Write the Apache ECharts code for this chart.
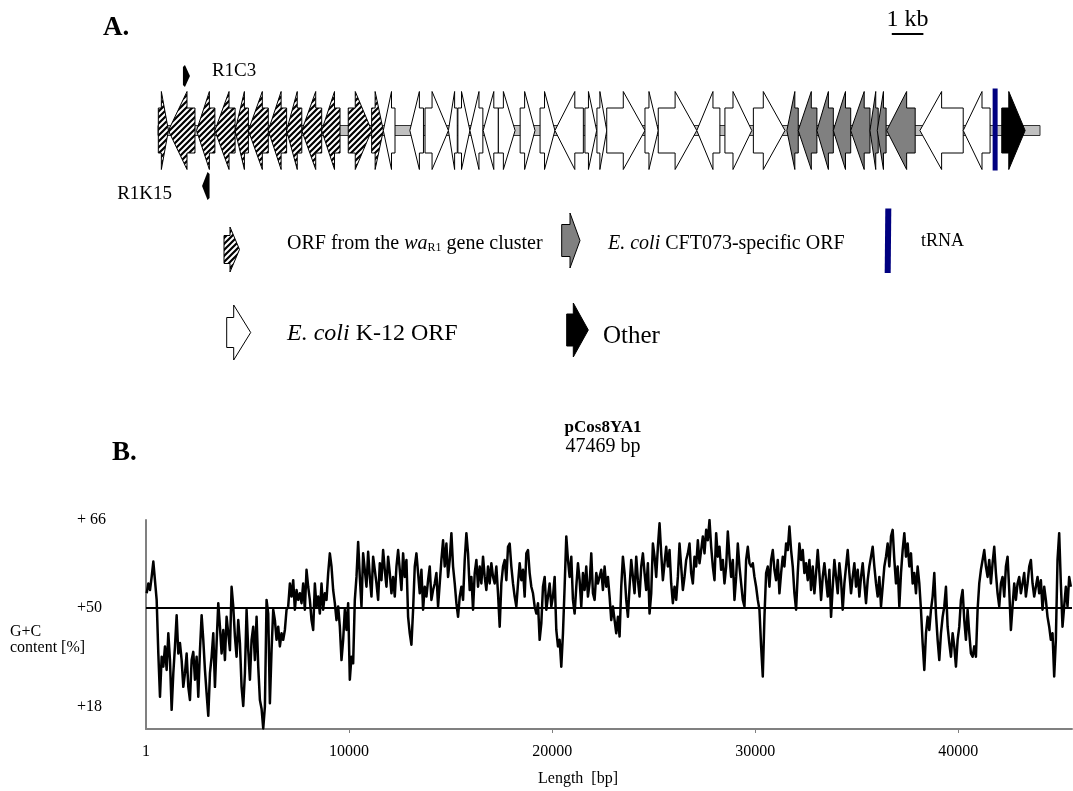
<!DOCTYPE html>
<html>
<head>
<meta charset="utf-8">
<script src="https://cdn.jsdelivr.net/npm/echarts@6/dist/echarts.min.js"></script>
<style>
html,body{margin:0;padding:0;background:#fff;}
#chart{width:1073px;height:791px;}
</style>
</head>
<body>
<div id="chart"></div>
<script>
// ================= Panel A: ORF map of the insert (kb) =================
const mapLengthKb = 27.91;
const geneStartKb = [0.01,0.33,1.22,1.80,2.44,2.86,3.49,4.07,4.55,5.18,
  6.02,6.76,7.13,7.97,8.45,9.19,9.49,9.87,10.29,10.77,
  11.46,12.09,12.56,13.51,13.89,14.20,15.41,15.83,17.05,17.94,
  18.84,19.90,20.26,20.85,21.37,21.92,22.53,22.76,23.06,24.11,
  25.48,26.70];
const geneEndKb = [0.33,1.17,1.80,2.44,2.86,3.49,4.07,4.55,5.18,5.76,
  6.76,7.13,7.50,8.40,9.19,9.47,9.87,10.28,10.77,11.30,
  11.93,12.56,13.46,13.88,14.20,15.41,15.83,17.05,17.78,18.79,
  19.84,20.26,20.85,21.37,21.92,22.53,22.79,23.04,23.96,25.48,
  26.33,27.44];
const geneStrand = [1,-1,-1,-1,-1,-1,-1,-1,-1,-1,
  1,1,-1,-1,1,-1,1,-1,-1,1,
  1,1,-1,1,1,1,1,1,-1,1,
  1,-1,-1,-1,-1,-1,-1,-1,-1,-1,
  -1,1];
const geneClass = ['wa','wa','wa','wa','wa','wa','wa','wa','wa','wa',
  'wa','wa','k12','k12','k12','k12','k12','k12','k12','k12',
  'k12','k12','k12','k12','k12','k12','k12','k12','k12','k12',
  'k12','cft','cft','cft','cft','cft','cft','cft','cft','k12',
  'k12','other'];
const trnaKb = [26.49];
const primerNames = ['R1C3','R1K15'];
const primerKb = [0.90, 1.52];
const primerStrand = [1, -1];
const scaleBarKb = [23.22, 24.22];
const scaleBarLabel = '1 kb';

// ================= Panel B: G+C content (%) along pCos8YA1 =================
const gcWindowStartBp = 33;
const gcWindowStepBp = 82;
const gcPercent = [
52.6,54.4,53.2,55.6,58.4,58.7,51.4,41.6,33.7,41.0,39.2,42.9,38.6,45.3,40.4,31.3,38.0,42.9,48.6,41.6,
43.5,40.4,35.5,38.0,41.6,35.5,33.1,40.4,41.9,36.8,41.0,33.7,42.2,48.6,44.1,38.6,34.3,30.2,38.0,41.0,
45.3,35.5,43.5,50.8,46.5,41.6,45.9,40.4,48.3,45.3,42.2,53.8,50.2,44.7,41.0,47.7,43.5,35.5,32.0,38.0,
49.6,42.2,36.8,44.1,46.5,40.4,48.3,39.2,33.1,31.5,27.9,31.9,51.4,48.9,32.5,42.2,49.6,47.7,44.1,46.5,
42.9,45.3,44.1,45.9,49.6,50.2,54.4,52.0,55.0,49.6,53.2,51.4,52.6,50.8,54.4,49.6,56.9,53.8,51.4,47.7,
45.9,54.4,50.2,52.0,48.9,54.4,49.6,52.6,51.4,56.3,59.9,57.5,53.2,50.8,47.7,50.2,46.5,40.4,44.1,49.6,
45.9,50.8,36.8,41.0,39.8,51.4,55.6,62.0,55.6,50.2,59.9,56.9,53.8,60.2,55.6,52.0,59.3,56.9,54.4,51.4,
58.1,55.0,60.5,56.9,53.8,59.3,56.3,52.6,55.6,52.0,57.5,60.5,56.9,53.2,59.9,55.6,58.7,48.3,45.3,43.2,
49.6,57.5,59.9,56.3,52.6,56.9,49.6,53.8,52.0,55.0,57.5,51.4,53.2,54.4,56.3,50.2,54.4,58.7,62.3,57.5,
61.7,55.6,58.7,63.6,57.5,54.4,50.8,48.3,52.0,53.8,51.4,58.7,63.6,59.9,53.2,55.6,49.6,56.3,58.7,53.8,
57.5,54.4,59.3,55.6,53.2,57.5,54.4,58.1,55.6,54.4,57.5,52.6,46.5,54.4,57.5,58.7,55.0,61.1,61.7,57.5,
54.4,52.0,50.2,54.4,58.1,55.0,56.9,52.0,59.9,60.5,56.3,53.8,52.6,50.2,48.9,50.8,44.1,47.1,53.8,55.6,
49.6,52.0,54.4,50.2,52.0,55.6,45.9,42.9,44.1,39.2,45.3,53.8,63.0,58.7,55.6,59.3,51.4,48.9,53.8,58.1,
55.0,50.2,56.3,53.2,57.5,52.0,54.4,59.9,52.6,51.4,56.3,54.4,
54.4,56.9,53.2,57.5,53.8,55.6,52.0,47.7,50.2,47.7,45.3,48.3,44.7,53.8,59.3,56.3,51.4,48.3,53.8,58.7,
55.6,52.6,59.3,55.0,52.0,57.5,59.9,56.3,53.2,58.1,48.9,52.6,61.7,59.3,55.6,61.1,65.4,59.9,55.0,58.1,
61.1,57.5,60.5,54.4,50.8,53.8,51.4,55.6,61.7,57.5,53.2,55.6,58.7,59.9,61.7,56.3,54.4,59.3,57.5,62.3,
58.1,60.5,63.0,59.9,64.2,62.3,66.0,61.1,57.5,55.0,63.6,59.3,61.1,56.9,58.7,54.4,57.5,63.9,59.3,55.6,
58.7,51.4,55.6,61.7,57.5,54.4,51.4,50.2,58.7,61.1,58.1,57.5,58.1,55.6,53.8,51.4,49.6,42.9,37.4,48.3,
56.3,57.5,53.8,58.7,60.5,56.9,55.0,58.7,52.6,56.3,59.3,57.5,61.7,60.5,64.8,60.5,57.5,52.6,49.6,56.3,
61.7,58.7,60.5,56.3,58.1,55.0,58.7,53.2,57.5,52.6,56.3,60.5,56.3,51.4,55.6,58.1,55.0,52.0,56.9,48.3,
53.8,58.7,55.6,52.6,58.1,55.0,49.6,54.4,57.5,60.5,56.3,52.6,55.6,58.1,53.8,56.9,52.0,55.6,58.1,54.4,
50.8,55.0,57.5,59.3,61.1,57.5,54.4,52.0,55.6,50.2,53.8,57.5,59.3,61.7,57.5,63.0,64.2,58.7,54.4,57.5,
50.2,56.3,60.5,63.6,59.3,61.7,57.5,59.9,54.4,56.3,52.6,57.5,54.4,49.6,43.5,38.6,45.3,48.3,45.9,49.6,
52.0,56.3,48.9,44.1,40.4,45.3,48.3,50.2,53.8,46.5,43.5,41.0,45.3,42.9,39.2,44.1,46.5,51.4,53.2,47.7,
44.1,49.6,45.3,41.6,41.0,42.9,41.0,49.6,54.4,56.9,58.7,60.5,57.5,55.6,58.7,54.4,58.1,61.1,56.3,52.6,
50.2,54.4,55.6,52.0,57.5,59.3,53.2,45.9,50.2,54.4,51.4,54.4,55.6,52.6,54.4,56.3,52.0,54.4,57.5,58.7,
54.4,52.0,53.8,55.6,52.6,55.0,49.6,53.8,51.4,48.3,46.5,44.1,45.3,37.4,44.1,58.7,63.6,54.4,46.5,50.2,
53.8,50.2,55.6,53.8
];
const gcReferencePercent = 50;
const xTickValues = [1, 10000, 20000, 30000, 40000];
const xTickLabels = ['1', '10000', '20000', '30000', '40000'];
const yTickValues = [31.9, 50, 66];
const yTickLabels = ['+18', '+50', '+ 66'];

// ================= rendering =================
const FONT = '"Liberation Serif","Times New Roman",serif';

function makeHatch() {
  const c = document.createElement('canvas');
  c.width = 6; c.height = 6;
  const g = c.getContext('2d');
  g.fillStyle = '#ffffff'; g.fillRect(0, 0, 6, 6);
  g.strokeStyle = '#000000'; g.lineWidth = 2.2;
  g.beginPath();
  g.moveTo(-1, 1); g.lineTo(1, -1);
  g.moveTo(-1, 7); g.lineTo(7, -1);
  g.moveTo(5, 7); g.lineTo(7, 5);
  g.stroke();
  return c;
}
const hatch = { image: makeHatch(), repeat: 'repeat' };
const classFill = { wa: hatch, k12: '#ffffff', cft: '#808080', other: '#000000' };
const classIndex = ['wa', 'k12', 'cft', 'other'];

function arrowPoints(x0, x1, cy, bh, hh, head, dir) {
  if (dir > 0) {
    const hb = x1 - head;
    return [[x0, cy - bh], [hb, cy - bh], [hb, cy - hh], [x1, cy], [hb, cy + hh], [hb, cy + bh], [x0, cy + bh]];
  }
  const hb = x0 + head;
  return [[x1, cy - bh], [hb, cy - bh], [hb, cy - hh], [x0, cy], [hb, cy + hh], [hb, cy + bh], [x1, cy + bh]];
}

const geneData = geneStartKb.map((s, i) => [s, geneEndKb[i], geneStrand[i], classIndex.indexOf(geneClass[i])]);

function renderGene(params, api) {
  const p0 = api.coord([api.value(0), 0.5]);
  const p1 = api.coord([api.value(1), 0.5]);
  const len = p1[0] - p0[0];
  const head = Math.min(0.7 * len, 21.7);
  const pts = arrowPoints(p0[0], p1[0], p0[1], 22.5, 39, head, api.value(2));
  return {
    type: 'polygon', shape: { points: pts },
    style: { fill: classFill[classIndex[api.value(3)]], stroke: '#000', lineWidth: 1 }
  };
}
function renderTrack(params, api) {
  const p0 = api.coord([api.value(0), 0.5]);
  const p1 = api.coord([api.value(1), 0.5]);
  return { type: 'rect', shape: { x: p0[0], y: p0[1] - 5, width: p1[0] - p0[0], height: 10 },
    style: { fill: '#c0c0c0', stroke: '#333', lineWidth: 1 } };
}
function renderTrna(params, api) {
  const p = api.coord([api.value(0), 0.5]);
  return { type: 'rect', shape: { x: p[0] - 2.5, y: p[1] - 42, width: 5, height: 82 },
    style: { fill: '#000080' } };
}
function renderPrimer(params, api) {
  const p = api.coord([api.value(0), 0.5]);
  const dir = api.value(1);
  const name = primerNames[params.dataIndex];
  if (dir > 0) {
    const x = p[0], y = p[1] - 54.5;
    return { type: 'group', children: [
      { type: 'polygon', shape: { points: [[x - 3.5, y - 9], [x - 1.5, y - 11], [x + 3.5, y], [x - 1.5, y + 11], [x - 3.5, y + 9]] }, style: { fill: '#000' } },
      { type: 'text', x: x + 25.5, y: y - 5, style: { text: name, fontFamily: FONT, fontSize: 19, fill: '#000', align: 'left', verticalAlign: 'middle' } }
    ] };
  }
  const x = p[0], y = p[1] + 55.5;
  return { type: 'group', children: [
    { type: 'polygon', shape: { points: [[x + 3.5, y - 12], [x + 1.5, y - 14], [x - 4, y], [x + 1.5, y + 14], [x + 3.5, y + 12]] }, style: { fill: '#000' } },
    { type: 'text', x: x - 34, y: y + 8, style: { text: name, fontFamily: FONT, fontSize: 19, fill: '#000', align: 'right', verticalAlign: 'middle' } }
  ] };
}
function renderScaleBar(params, api) {
  const p0 = api.coord([api.value(0), 0.5]);
  const p1 = api.coord([api.value(1), 0.5]);
  const y = p0[1] - 96.5;
  return { type: 'group', children: [
    { type: 'line', shape: { x1: p0[0], y1: y, x2: p1[0], y2: y }, style: { stroke: '#000', lineWidth: 2 } },
    { type: 'text', x: (p0[0] + p1[0]) / 2, y: y - 14, style: { text: scaleBarLabel, fontFamily: FONT, fontSize: 24, fill: '#000', align: 'center', verticalAlign: 'middle' } }
  ] };
}

function legendArrow(x0, x1, cy, bh, hh, head, fill) {
  return { type: 'polygon', shape: { points: arrowPoints(x0, x1, cy, bh, hh, head, 1) },
    style: { fill: fill, stroke: '#000', lineWidth: 1 } };
}
function txt(x, y, text, size, extra) {
  return { type: 'text', x: x, y: y, style: Object.assign({ text: text, fontFamily: FONT, fontSize: size, fill: '#000', align: 'left', verticalAlign: 'middle' }, extra || {}) };
}

const chart = echarts.init(document.getElementById('chart'), null, { renderer: 'canvas' });
const option = {
  backgroundColor: '#ffffff',
  animation: false,
  grid: [
    { left: 158, top: 80, width: 882, height: 101 },
    { left: 146, top: 520, width: 926, height: 209 }
  ],
  xAxis: [
    { gridIndex: 0, type: 'value', min: 0, max: mapLengthKb, show: false },
    { gridIndex: 1, type: 'value', min: 0, max: 45600,
      axisLine: { show: true, lineStyle: { color: '#808080', width: 2 } },
      axisTick: { show: true, customValues: xTickValues.slice(1), length: 4, lineStyle: { color: '#808080' } },
      axisLabel: { customValues: xTickValues, formatter: v => xTickLabels[xTickValues.indexOf(v)],
        fontFamily: FONT, fontSize: 16, color: '#000', margin: 15 },
      splitLine: { show: false } }
  ],
  yAxis: [
    { gridIndex: 0, type: 'value', min: 0, max: 1, show: false },
    { gridIndex: 1, type: 'value', min: 27.8, max: 66,
      axisLine: { show: true, lineStyle: { color: '#808080', width: 2 } },
      axisTick: { show: false },
      axisLabel: { customValues: yTickValues, formatter: v => yTickLabels[yTickValues.indexOf(v)],
        fontFamily: FONT, fontSize: 16, color: '#000', align: 'left', margin: 69 },
      splitLine: { show: false } }
  ],
  series: [
    { type: 'custom', xAxisIndex: 0, yAxisIndex: 0, clip: false, silent: true,
      renderItem: renderTrack, data: [[0, mapLengthKb]] },
    { type: 'custom', xAxisIndex: 0, yAxisIndex: 0, clip: false, silent: true,
      renderItem: renderGene, data: geneData },
    { type: 'custom', xAxisIndex: 0, yAxisIndex: 0, clip: false, silent: true,
      renderItem: renderTrna, data: trnaKb.map(v => [v]) },
    { type: 'custom', xAxisIndex: 0, yAxisIndex: 0, clip: false, silent: true,
      renderItem: renderPrimer, data: primerKb.map((v, i) => [v, primerStrand[i]]) },
    { type: 'custom', xAxisIndex: 0, yAxisIndex: 0, clip: false, silent: true,
      renderItem: renderScaleBar, data: [scaleBarKb] },
    { type: 'line', xAxisIndex: 1, yAxisIndex: 1, showSymbol: false, silent: true,
      lineStyle: { color: '#000', width: 2.5, join: 'round' },
      data: gcPercent.map((v, i) => [gcWindowStartBp + i * gcWindowStepBp, v]),
      markLine: { silent: true, symbol: 'none', label: { show: false },
        lineStyle: { color: '#000', width: 2, type: 'solid' },
        data: [{ yAxis: gcReferencePercent }] } }
  ],
  graphic: [
    txt(103, 28, 'A.', 27, { fontWeight: 'bold' }),
    // legend
    legendArrow(224, 239.5, 249.5, 14, 22.5, 9.5, hatch),
    { type: 'text', x: 287, y: 244, style: { text: '{n|ORF from the }{i|wa}{s|R1}{n| gene cluster}',
      verticalAlign: 'middle', align: 'left',
      rich: { n: { fontFamily: FONT, fontSize: 20, fill: '#000' },
              i: { fontFamily: FONT, fontSize: 20, fontStyle: 'italic', fill: '#000' },
              s: { fontFamily: FONT, fontSize: 12, fill: '#000', verticalAlign: 'bottom' } } } },
    legendArrow(561.7, 580, 240.5, 16, 27.5, 10, '#808080'),
    { type: 'text', x: 608, y: 244, style: { text: '{i|E. coli}{n| CFT073-specific ORF}',
      verticalAlign: 'middle', align: 'left',
      rich: { n: { fontFamily: FONT, fontSize: 20, fill: '#000' },
              i: { fontFamily: FONT, fontSize: 20, fontStyle: 'italic', fill: '#000' } } } },
    { type: 'line', shape: { x1: 888.3, y1: 208.5, x2: 887.7, y2: 273 }, style: { stroke: '#000080', lineWidth: 6 } },
    txt(921, 241, 'tRNA', 18),
    legendArrow(226.7, 250.7, 332.5, 15, 27.5, 17, '#ffffff'),
    { type: 'text', x: 287, y: 334, style: { text: '{i|E. coli}{n| K-12 ORF}',
      verticalAlign: 'middle', align: 'left',
      rich: { n: { fontFamily: FONT, fontSize: 24, fill: '#000' },
              i: { fontFamily: FONT, fontSize: 24, fontStyle: 'italic', fill: '#000' } } } },
    legendArrow(566.7, 588.3, 330, 16, 27, 15, '#000000'),
    txt(603, 336, 'Other', 25),
    // panel B titles
    txt(112, 453, 'B.', 27, { fontWeight: 'bold' }),
    txt(603, 428, 'pCos8YA1', 17, { fontWeight: 'bold', align: 'center' }),
    txt(603, 447, '47469 bp', 20, { align: 'center' }),
    txt(10, 632, 'G+C', 16),
    txt(10, 648, 'content [%]', 16),
    txt(578, 779, 'Length  [bp]', 16, { align: 'center' })
  ]
};
chart.setOption(option);
</script>
</body>
</html>
